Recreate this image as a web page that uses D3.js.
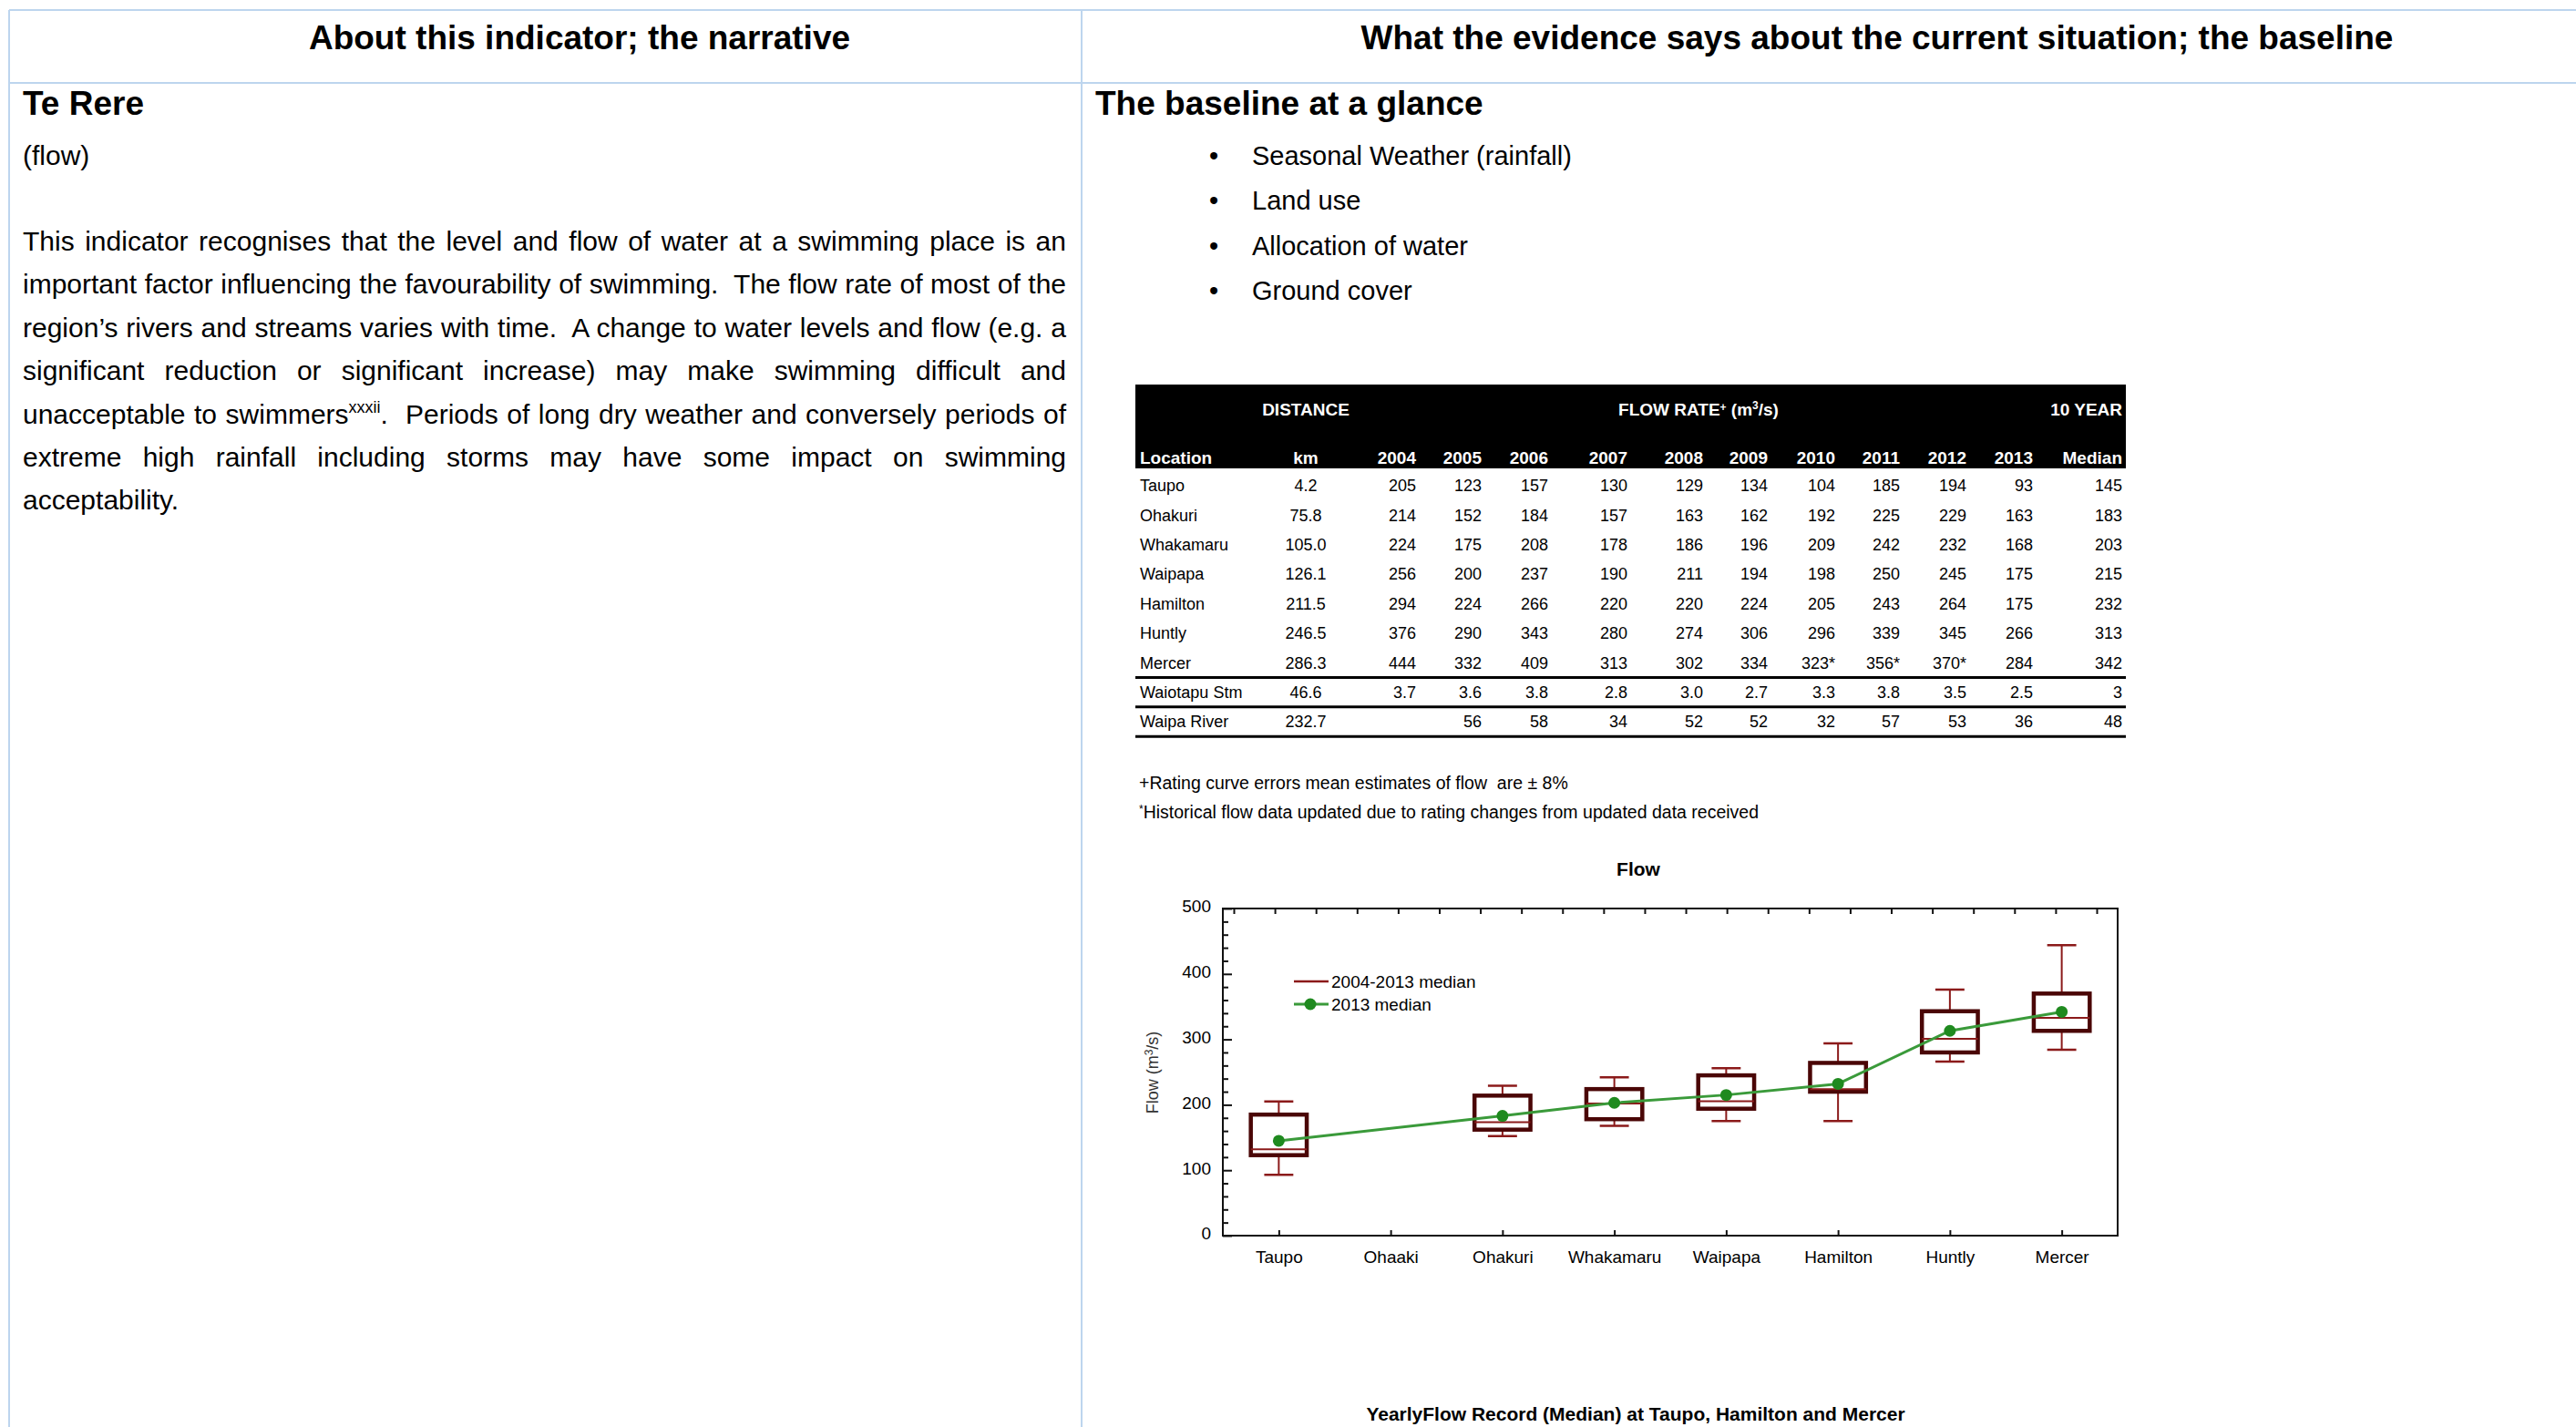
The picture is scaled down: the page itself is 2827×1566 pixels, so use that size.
<!DOCTYPE html>
<html>
<head>
<meta charset="utf-8">
<script src="https://cdn.jsdelivr.net/npm/d3@7"></script>
<style>
  body { margin: 0; background: #fff; }
  svg { display: block; }
  text { font-family: "Liberation Sans", Arial, sans-serif; fill: #000; }
</style>
</head>
<body>
<div id="container"></div>
<script>
var width = 2827;
var height = 1566;

// ---- table data ----
var years = ["2004", "2005", "2006", "2007", "2008", "2009", "2010", "2011", "2012", "2013"];
var locations = ["Taupo", "Ohakuri", "Whakamaru", "Waipapa", "Hamilton", "Huntly", "Mercer", "Waiotapu Stm", "Waipa River"];
var distanceKm = ["4.2", "75.8", "105.0", "126.1", "211.5", "246.5", "286.3", "46.6", "232.7"];
var flowRows = [
    ["205", "123", "157", "130", "129", "134", "104", "185", "194", "93"],
    ["214", "152", "184", "157", "163", "162", "192", "225", "229", "163"],
    ["224", "175", "208", "178", "186", "196", "209", "242", "232", "168"],
    ["256", "200", "237", "190", "211", "194", "198", "250", "245", "175"],
    ["294", "224", "266", "220", "220", "224", "205", "243", "264", "175"],
    ["376", "290", "343", "280", "274", "306", "296", "339", "345", "266"],
    ["444", "332", "409", "313", "302", "334", "323*", "356*", "370*", "284"],
    ["3.7", "3.6", "3.8", "2.8", "3.0", "2.7", "3.3", "3.8", "3.5", "2.5"],
    ["", "56", "58", "34", "52", "52", "32", "57", "53", "36"]
];
var medianCol = ["145", "183", "203", "215", "232", "313", "342", "3", "48"];

// ---- chart data ----
var chartSites = ["Taupo", "Ohaaki", "Ohakuri", "Whakamaru", "Waipapa", "Hamilton", "Huntly", "Mercer"];
var yTicks = [0, 100, 200, 300, 400, 500];

var bullets = ["Seasonal Weather (rainfall)", "Land use", "Allocation of water", "Ground cover"];
var narrative = [
    ["This indicator recognises that the level and flow of water at a swimming place is an"],
    ["important factor influencing the favourability of swimming.  The flow rate of most of the"],
    ["region\u2019s rivers and streams varies with time.  A change to water levels and flow (e.g. a"],
    ["significant reduction or significant increase) may make swimming difficult and"],
    ["unacceptable to swimmers", "xxxii", ".  Periods of long dry weather and conversely periods of"],
    ["extreme high rainfall including storms may have some impact on swimming"],
    ["acceptability."]
];

var svg = d3.select("div#container").append("svg")
    .attr("width", width)
    .attr("height", height);

// ---- page frame ----
var frame = "#bdd5ee";
var colX = 1187;
svg.append("line").attr("x1", 10).attr("x2", width).attr("y1", 11).attr("y2", 11)
    .attr("stroke", frame).attr("stroke-width", 2);
svg.append("line").attr("x1", 10).attr("x2", width).attr("y1", 91).attr("y2", 91)
    .attr("stroke", frame).attr("stroke-width", 2);
svg.append("line").attr("x1", 10).attr("x2", 10).attr("y1", 11).attr("y2", height)
    .attr("stroke", frame).attr("stroke-width", 2);
svg.append("line").attr("x1", colX).attr("x2", colX).attr("y1", 11).attr("y2", height)
    .attr("stroke", frame).attr("stroke-width", 2);

svg.append("text").attr("x", 636).attr("y", 54).attr("text-anchor", "middle")
    .attr("font-size", 37).attr("font-weight", "bold")
    .text("About this indicator; the narrative");
svg.append("text").attr("x", 2060).attr("y", 54).attr("text-anchor", "middle")
    .attr("font-size", 37).attr("font-weight", "bold")
    .text("What the evidence says about the current situation; the baseline");

// ---- left column ----
svg.append("text").attr("x", 25).attr("y", 126)
    .attr("font-size", 37).attr("font-weight", "bold").text("Te Rere");
svg.append("text").attr("x", 25).attr("y", 181)
    .attr("font-size", 30).text("(flow)");

var textLeft = 25, textRight = 1170;
narrative.forEach(function(parts, i) {
    var t = svg.append("text")
        .attr("x", textLeft)
        .attr("y", 275 + i * 47.4)
        .attr("font-size", 30)
        .style("white-space", "pre");
    if (parts.length === 1) {
        t.text(parts[0]);
    } else {
        t.append("tspan").text(parts[0]);
        t.append("tspan").attr("font-size", 18).attr("dy", -12).text(parts[1]);
        t.append("tspan").attr("dy", 12).text(parts[2]);
    }
    // justify all but the last line
    if (i < narrative.length - 1) {
        var full = parts.join("");
        var gaps = (full.match(/ /g) || []).length;
        var w = t.node().getComputedTextLength();
        t.style("word-spacing", ((textRight - textLeft - w) / gaps) + "px");
    }
});

// ---- right column ----
svg.append("text").attr("x", 1202).attr("y", 126)
    .attr("font-size", 37).attr("font-weight", "bold").text("The baseline at a glance");

var bl = svg.append("g").selectAll("g").data(bullets).enter().append("g")
    .attr("transform", function(d, i) { return "translate(0," + (181 + i * 49.3) + ")"; });
bl.append("text").attr("x", 1332).attr("text-anchor", "middle").attr("font-size", 29).text("\u2022");
bl.append("text").attr("x", 1374).attr("font-size", 29).text(function(d) { return d; });

// ---- table ----
var tblL = 1246, tblR = 2333;
var colRight = [1554, 1626, 1699, 1786, 1869, 1940, 2014, 2085, 2158, 2231];
var medRight = 2329, kmCenter = 1433;
var rowY = d3.scalePoint().domain(locations).range([533, 792]);

var table = svg.append("g").attr("font-size", 18);
table.append("rect").attr("x", tblL).attr("y", 422)
    .attr("width", tblR - tblL).attr("height", 92).attr("fill", "#000");

var hdr = table.append("g").attr("font-weight", "bold").attr("font-size", 19);
hdr.append("text").attr("x", kmCenter).attr("y", 449).attr("dy", "0.35em")
    .attr("text-anchor", "middle").style("fill", "#fff").text("DISTANCE");
var fr = hdr.append("text").attr("x", 1864).attr("y", 449).attr("dy", "0.35em")
    .attr("text-anchor", "middle").style("fill", "#fff");
fr.append("tspan").text("FLOW RATE");
fr.append("tspan").attr("font-size", 12).attr("dy", -5).text("+");
fr.append("tspan").attr("dy", 5).text(" (m");
fr.append("tspan").attr("font-size", 12).attr("dy", -7).text("3");
fr.append("tspan").attr("dy", 7).text("/s)");
hdr.append("text").attr("x", medRight).attr("y", 449).attr("dy", "0.35em")
    .attr("text-anchor", "end").style("fill", "#fff").text("10 YEAR");

hdr.append("text").attr("x", 1251).attr("y", 502).attr("dy", "0.35em")
    .style("fill", "#fff").text("Location");
hdr.append("text").attr("x", kmCenter).attr("y", 502).attr("dy", "0.35em")
    .attr("text-anchor", "middle").style("fill", "#fff").text("km");
hdr.selectAll("text.yr").data(years).enter().append("text").attr("class", "yr")
    .attr("x", function(d, i) { return colRight[i]; })
    .attr("y", 502).attr("dy", "0.35em").attr("text-anchor", "end")
    .style("fill", "#fff").text(function(d) { return d; });
hdr.append("text").attr("x", medRight).attr("y", 502).attr("dy", "0.35em")
    .attr("text-anchor", "end").style("fill", "#fff").text("Median");

var rows = table.selectAll("g.row").data(locations).enter().append("g")
    .attr("class", "row")
    .attr("transform", function(d) { return "translate(0," + rowY(d) + ")"; });
rows.append("text").attr("x", 1251).attr("dy", "0.35em").text(function(d) { return d; });
rows.append("text").attr("x", kmCenter).attr("dy", "0.35em").attr("text-anchor", "middle")
    .text(function(d, i) { return distanceKm[i]; });
rows.each(function(d, i) {
    d3.select(this).selectAll("text.v").data(flowRows[i]).enter().append("text")
        .attr("class", "v")
        .attr("x", function(v, j) { return colRight[j]; })
        .attr("dy", "0.35em").attr("text-anchor", "end")
        .text(function(v) { return v; });
});
rows.append("text").attr("x", medRight).attr("dy", "0.35em").attr("text-anchor", "end")
    .text(function(d, i) { return medianCol[i]; });

// rule lines under Mercer, Waiotapu and at bottom
[6, 7, 8].forEach(function(i) {
    var yy = (rowY(locations[i]) + (i < 8 ? rowY(locations[i + 1]) : rowY(locations[i]) + 32.4)) / 2;
    table.append("line").attr("x1", tblL).attr("x2", tblR).attr("y1", yy).attr("y2", yy)
        .attr("stroke", "#000").attr("stroke-width", 3);
});

svg.append("text").attr("x", 1250).attr("y", 866).attr("font-size", 19.5)
    .style("white-space", "pre").text("+Rating curve errors mean estimates of flow  are \u00b1 8%");
var fn = svg.append("text").attr("x", 1250).attr("y", 898).attr("font-size", 19.5);
fn.append("tspan").attr("font-size", 12).attr("dy", -6).text("*");
fn.append("tspan").attr("dy", 6).text("Historical flow data updated due to rating changes from updated data received");

// ---- box plot ----
var plotL = 1342, plotR = 2324, plotT = 997, plotB = 1356;
var x = d3.scalePoint().domain(chartSites).range([plotL, plotR]).padding(0.5);
var y = d3.scaleLinear().domain([0, 500]).range([plotB, plotT]);

// Tukey hinges from yearly flows
function hinge(arr) {
    var half = Math.floor(arr.length / 2);
    return [d3.median(arr.slice(0, arr.length % 2 ? half + 1 : half)),
            d3.median(arr.slice(half))];
}
var boxes = chartSites.map(function(site) {
    var i = locations.indexOf(site);
    if (i < 0) return null;
    var vals = flowRows[i].map(parseFloat).sort(d3.ascending);
    var h = hinge(vals);
    return { site: site, min: vals[0], q1: h[0], med: d3.median(vals), q3: h[1],
             max: vals[vals.length - 1], m: +medianCol[i] };
}).filter(function(d) { return d; });

var chart = svg.append("g");
chart.append("text").attr("x", 1798).attr("y", 954).attr("dy", "0.35em")
    .attr("text-anchor", "middle").attr("font-size", 21).attr("font-weight", "bold").text("Flow");

var yAxis = chart.append("g").attr("transform", "translate(" + plotL + ",0)")
    .call(d3.axisLeft(y).tickValues(yTicks).tickSizeInner(-10).tickSizeOuter(0).tickPadding(13));
chart.append("g").attr("transform", "translate(" + plotL + ",0)")
    .call(d3.axisLeft(y).tickValues(d3.range(0, 501, 20).filter(function(v) { return v % 100; }))
        .tickSizeInner(-6).tickSizeOuter(0).tickFormat(""));
var xAxis = chart.append("g").attr("transform", "translate(0," + plotB + ")")
    .call(d3.axisBottom(x).tickSizeInner(-6).tickSizeOuter(0).tickPadding(17));
var topScale = d3.scaleLinear().domain([0, 21]).range([1354, 2301]);
chart.append("g").attr("transform", "translate(0," + plotT + ")")
    .call(d3.axisTop(topScale).tickValues(d3.range(0, 22)).tickSizeInner(-6).tickSizeOuter(0).tickFormat(""));

chart.selectAll(".domain").remove();
chart.selectAll(".tick line").attr("stroke", "#111").attr("stroke-width", 2);
yAxis.selectAll("text").attr("font-size", 19).attr("font-family", "Liberation Sans, Arial, sans-serif")
    .attr("dy", "0.2em").style("fill", "#000");
xAxis.selectAll("text").attr("font-size", 19).attr("font-family", "Liberation Sans, Arial, sans-serif")
    .style("fill", "#000");

chart.append("rect").attr("x", plotL).attr("y", plotT)
    .attr("width", plotR - plotL).attr("height", plotB - plotT)
    .attr("fill", "none").attr("stroke", "#111").attr("stroke-width", 2);

var ylab = chart.append("text").attr("transform", "translate(1265,1177) rotate(-90)")
    .attr("text-anchor", "middle").attr("dy", "0.35em").attr("font-size", 18)
    .style("fill", "#333");
ylab.append("tspan").text("Flow  (m");
ylab.append("tspan").attr("font-size", 12).attr("dy", -6).text("3");
ylab.append("tspan").attr("dy", 6).text("/s)");

var whisk = "#8b1a1a", boxCol = "#4a0606";
var boxW = x.step() * 0.5, capW = x.step() * 0.26;
var bx = chart.selectAll("g.box").data(boxes).enter().append("g").attr("class", "box")
    .attr("transform", function(d) { return "translate(" + x(d.site) + ",0)"; });
bx.append("line").attr("y1", function(d) { return y(d.max); }).attr("y2", function(d) { return y(d.q3); })
    .attr("stroke", whisk).attr("stroke-width", 2);
bx.append("line").attr("y1", function(d) { return y(d.min); }).attr("y2", function(d) { return y(d.q1); })
    .attr("stroke", whisk).attr("stroke-width", 2);
bx.append("line").attr("x1", -capW / 2).attr("x2", capW / 2)
    .attr("y1", function(d) { return y(d.max); }).attr("y2", function(d) { return y(d.max); })
    .attr("stroke", whisk).attr("stroke-width", 2.5);
bx.append("line").attr("x1", -capW / 2).attr("x2", capW / 2)
    .attr("y1", function(d) { return y(d.min); }).attr("y2", function(d) { return y(d.min); })
    .attr("stroke", whisk).attr("stroke-width", 2.5);
bx.append("rect").attr("x", -boxW / 2).attr("width", boxW)
    .attr("y", function(d) { return y(d.q3); })
    .attr("height", function(d) { return y(d.q1) - y(d.q3); })
    .attr("fill", "none").attr("stroke", boxCol).attr("stroke-width", 4.5);
bx.append("line").attr("x1", -boxW / 2).attr("x2", boxW / 2)
    .attr("y1", function(d) { return y(d.med); }).attr("y2", function(d) { return y(d.med); })
    .attr("stroke", whisk).attr("stroke-width", 2);

var green = "#1f8a1f";
chart.append("path").datum(boxes)
    .attr("d", d3.line().x(function(d) { return x(d.site); }).y(function(d) { return y(d.m); }))
    .attr("fill", "none").attr("stroke", "#3a9a3a").attr("stroke-width", 3);
chart.selectAll("circle.m").data(boxes).enter().append("circle").attr("class", "m")
    .attr("cx", function(d) { return x(d.site); }).attr("cy", function(d) { return y(d.m); })
    .attr("r", 6.5).attr("fill", green);

// legend
var leg = chart.append("g").attr("font-size", 19);
leg.append("line").attr("x1", 1420).attr("x2", 1458).attr("y1", 1077).attr("y2", 1077)
    .attr("stroke", whisk).attr("stroke-width", 2.5);
leg.append("text").attr("x", 1461).attr("y", 1077).attr("dy", "0.35em").text("2004-2013 median");
leg.append("line").attr("x1", 1420).attr("x2", 1458).attr("y1", 1102).attr("y2", 1102)
    .attr("stroke", "#3a9a3a").attr("stroke-width", 3);
leg.append("circle").attr("cx", 1438).attr("cy", 1102).attr("r", 6.5).attr("fill", green);
leg.append("text").attr("x", 1461).attr("y", 1102).attr("dy", "0.35em").text("2013 median");

svg.append("text").attr("x", 1795).attr("y", 1552).attr("dy", "0.35em")
    .attr("text-anchor", "middle").attr("font-size", 21).attr("font-weight", "bold")
    .text("YearlyFlow Record (Median) at Taupo, Hamilton and Mercer");
</script>
</body>
</html>
